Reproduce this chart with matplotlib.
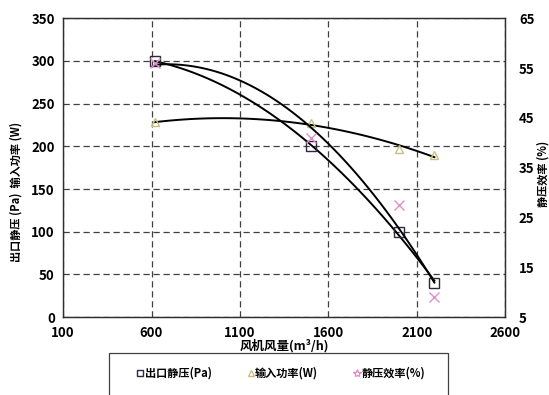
import numpy as np
import matplotlib.pyplot as plt
from matplotlib.patches import Rectangle

plt.rcParams['font.family'] = ['Noto Sans CJK SC', 'DejaVu Sans']
plt.rcParams['font.weight'] = 'bold'

# data
flow = [620, 1500, 2000, 2200]            # 风机风量 m3/h
pressure = [300, 200, 100, 40]            # 出口静压 Pa
power = [228, 227, 197, 190]              # 输入功率 W
efficiency = [56, 41, 27.5, 9]            # 静压效率 %

xticks = [100, 600, 1100, 1600, 2100, 2600]
yticks = [0, 50, 100, 150, 200, 250, 300, 350]
y2ticks = [5, 15, 25, 35, 45, 55, 65]

fig = plt.figure(figsize=(5.49, 3.95), dpi=100)
ax = fig.add_axes([0.115, 0.197, 0.805, 0.757])
ax2 = ax.twinx()

# trend lines (2nd order, like excel)
xs = np.linspace(flow[0], flow[-1], 100)
c1 = np.polyfit(flow, pressure, 2)
c2 = np.polyfit(flow, power, 2)
c3 = np.polyfit(flow, efficiency, 2)
ax.plot(xs, np.polyval(c1, xs), color='black', lw=1.4, zorder=3)
ax.plot(xs, np.polyval(c2, xs), color='black', lw=1.4, zorder=3)
ax2.plot(xs, np.polyval(c3, xs), color='black', lw=1.4, zorder=3)

ax.plot(flow, pressure, 's', mfc='none', mec='#302840', ms=7, mew=1.0, zorder=4)
ax.plot(flow, power, '^', mfc='none', mec='#c8c080', ms=6, mew=1.0, zorder=4)
ax2.plot(flow, efficiency, 'x', color='#e090c8', ms=7, mew=1.0, zorder=4)

ax.set_xlim(100, 2600)
ax.set_ylim(0, 350)
ax2.set_ylim(5, 65)
ax.set_xticks(xticks)
ax.set_yticks(yticks)
ax2.set_yticks(y2ticks)
ax.grid(True, ls=(0, (5, 3)), color='#404040', lw=0.9)
ax.tick_params(length=0, labelsize=9.5, pad=6)
ax2.tick_params(length=0, labelsize=9.5, pad=10)
for a in (ax, ax2):
    for s in a.spines.values():
        s.set_color('#303030')
        s.set_linewidth(0.9)

ax.set_xlabel('风机风量(m³/h)', fontsize=9, weight='bold', labelpad=0)
ax.set_ylabel('出口静压 (Pa)  输入功率 (W)', fontsize=8, weight='bold', labelpad=6)
ax2.set_ylabel('静压效率 (%)', fontsize=8, weight='bold', labelpad=1)
ax.yaxis.label.set_y(0.42)
ax2.yaxis.label.set_y(0.48)

# legend box running off the bottom
fig.patches.append(Rectangle((109 / 549, -0.05), 339 / 549, 1 - 353 / 395 + 0.05,
                             transform=fig.transFigure, fill=False,
                             ec='#404040', lw=0.9))
h1, = ax.plot([], [], 's', mfc='none', mec='#302840', ms=5)
h2, = ax.plot([], [], '^', mfc='none', mec='#c8c080', ms=5)
h3, = ax.plot([], [], '*', mfc='none', mec='#e090c8', ms=6)
fig.legend([h1, h2, h3], ['出口静压(Pa)', '输入功率(W)', '静压效率(%)'],
           ncol=3, frameon=False, loc='center', bbox_to_anchor=(281 / 549, 1 - 373 / 395),
           fontsize=8, handlelength=0.6, handletextpad=0.1, columnspacing=3.2)

fig.savefig('out.png', dpi=100)
